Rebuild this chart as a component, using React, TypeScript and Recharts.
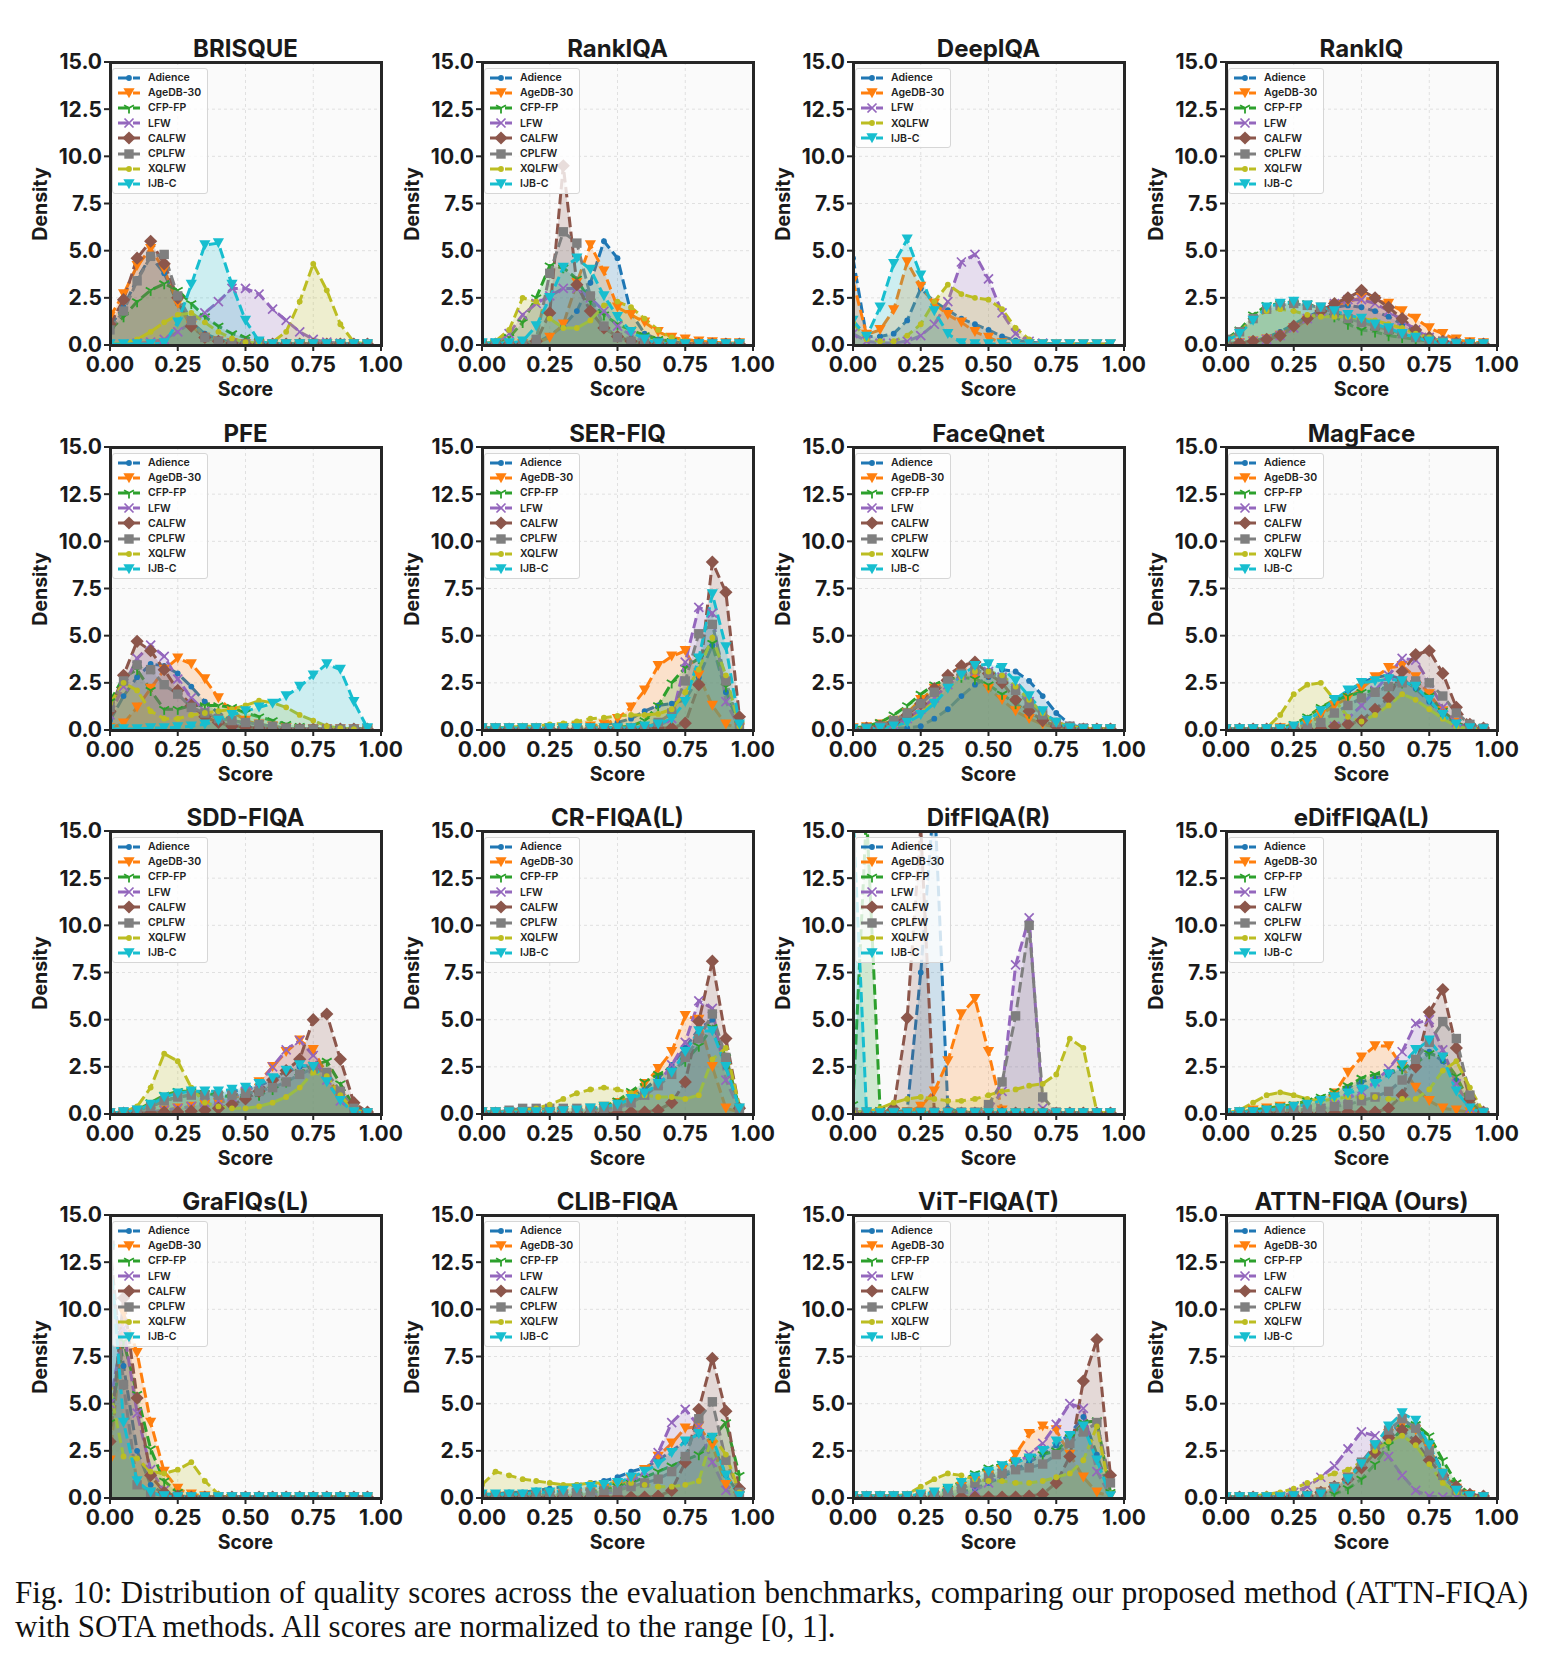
import { Area, CartesianGrid, ComposedChart, XAxis, YAxis } from "recharts"

const FONT = "Inter, 'DejaVu Sans', sans-serif"

// score bins shared by every density curve
const SCORES = [0, 0.05, 0.1, 0.15, 0.2, 0.25, 0.3, 0.35, 0.4, 0.45, 0.5, 0.55, 0.6, 0.65, 0.7, 0.75, 0.8, 0.85, 0.9, 0.95]
const X_TICKS = [0, 0.25, 0.5, 0.75, 1]
const Y_TICKS = [0, 2.5, 5, 7.5, 10, 12.5, 15]
const Y_MAX = 15

const BENCHMARKS = ["Adience", "AgeDB-30", "CFP-FP", "LFW", "CALFW", "CPLFW", "XQLFW", "IJB-C"]

type Curves = Record<string, number[]>

const brisque: Curves = {
  Adience: [1.0, 2.0, 3.5, 4.7, 3.8, 2.2, 1.2, 0.6, 0.3, 0.15, 0.1, 0.05, 0.05, 0.05, 0.05, 0.05, 0.05, 0.05, 0.05, 0.05],
  "AgeDB-30": [1.5, 2.7, 4.2, 5.1, 4.0, 2.2, 1.0, 0.4, 0.2, 0.1, 0.05, 0.05, 0.05, 0.05, 0.05, 0.05, 0.05, 0.05, 0.05, 0.05],
  "CFP-FP": [0.8, 1.5, 2.3, 2.9, 3.25, 2.9, 2.2, 1.5, 1.0, 0.6, 0.4, 0.2, 0.1, 0.05, 0.05, 0.05, 0.05, 0.05, 0.05, 0.05],
  LFW: [0.05, 0.05, 0.1, 0.15, 0.3, 0.7, 1.2, 1.7, 2.3, 3.0, 3.0, 2.7, 1.9, 1.3, 0.7, 0.3, 0.15, 0.1, 0.05, 0.05],
  CALFW: [1.1, 2.4, 4.6, 5.5, 4.3, 2.5, 1.0, 0.4, 0.2, 0.1, 0.05, 0.05, 0.05, 0.05, 0.05, 0.05, 0.05, 0.05, 0.05, 0.05],
  CPLFW: [0.8, 1.8, 3.4, 4.7, 4.8, 2.6, 1.3, 0.4, 0.2, 0.1, 0.05, 0.05, 0.05, 0.05, 0.05, 0.05, 0.05, 0.05, 0.05, 0.05],
  XQLFW: [0.05, 0.1, 0.3, 0.7, 1.2, 1.6, 1.7, 1.2, 0.7, 0.35, 0.15, 0.1, 0.15, 0.7, 2.3, 4.3, 2.9, 1.1, 0.15, 0.05],
  "IJB-C": [0.05, 0.05, 0.05, 0.05, 0.1, 1.2, 3.2, 5.3, 5.4, 3.2, 1.3, 0.2, 0.05, 0.05, 0.05, 0.05, 0.05, 0.05, 0.05, 0.05],
}

const rankIqa: Curves = {
  Adience: [0.05, 0.05, 0.05, 0.05, 0.1, 0.5, 1.0, 1.8, 3.3, 5.5, 4.6, 1.7, 0.6, 0.3, 0.2, 0.1, 0.05, 0.05, 0.05, 0.05],
  "AgeDB-30": [0.05, 0.05, 0.05, 0.05, 0.1, 0.4, 1.1, 3.3, 5.3, 3.9, 2.0, 1.6, 1.2, 0.7, 0.4, 0.3, 0.2, 0.15, 0.1, 0.1],
  "CFP-FP": [0.05, 0.1, 0.4, 1.2, 2.5, 4.2, 4.1, 3.5, 2.3, 1.6, 1.1, 0.8, 0.5, 0.3, 0.2, 0.1, 0.05, 0.05, 0.05, 0.05],
  LFW: [0.05, 0.1, 0.6, 1.6, 2.2, 2.6, 3.0, 3.0, 2.5, 1.8, 1.0, 0.5, 0.2, 0.1, 0.05, 0.05, 0.05, 0.05, 0.05, 0.05],
  CALFW: [0.05, 0.05, 0.05, 0.05, 0.2, 1.7, 9.5, 3.2, 1.8, 0.9, 0.45, 0.2, 0.1, 0.05, 0.05, 0.05, 0.05, 0.05, 0.05, 0.05],
  CPLFW: [0.05, 0.05, 0.05, 0.05, 0.3, 3.8, 6.0, 5.4, 2.6, 1.0, 0.4, 0.2, 0.1, 0.05, 0.05, 0.05, 0.05, 0.05, 0.05, 0.05],
  XQLFW: [0.05, 0.2, 0.8, 2.5, 2.3, 1.4, 0.9, 0.9, 1.3, 2.1, 2.3, 2.0, 1.4, 0.8, 0.4, 0.2, 0.1, 0.05, 0.05, 0.05],
  "IJB-C": [0.1, 0.1, 0.1, 0.2, 1.0, 2.5, 4.1, 4.6, 4.0, 2.6, 1.5, 0.7, 0.3, 0.1, 0.05, 0.05, 0.05, 0.05, 0.05, 0.05],
}

const deepIqa: Curves = {
  Adience: [4.6, 0.45, 0.45, 0.6, 1.3, 3.0, 2.3, 1.85, 1.4, 1.1, 0.8, 0.45, 0.25, 0.15, 0.1, 0.05, 0.05, 0.05, 0.05, 0.05],
  "AgeDB-30": [3.4, 0.55, 0.8, 1.85, 4.4, 3.1, 2.2, 1.6, 1.2, 0.7, 0.4, 0.1, 0.05, 0.05, 0.05, 0.05, 0.05, 0.05, 0.05, 0.05],
  LFW: [0.6, 0.2, 0.1, 0.1, 0.2, 0.5, 1.1, 2.3, 4.4, 4.8, 3.5, 1.7, 0.6, 0.2, 0.1, 0.05, 0.05, 0.05, 0.05, 0.05],
  XQLFW: [1.2, 0.3, 0.2, 0.2, 0.5, 1.1, 2.3, 3.2, 2.7, 2.5, 2.4, 1.9, 0.9, 0.3, 0.1, 0.05, 0.05, 0.05, 0.05, 0.05],
  "IJB-C": [1.3, 0.45, 2.0, 4.3, 5.6, 3.7, 1.8, 0.6, 0.1, 0.05, 0.05, 0.05, 0.05, 0.05, 0.05, 0.05, 0.05, 0.05, 0.05, 0.05],
}

const rankIq: Curves = {
  Adience: [0.1, 0.1, 0.2, 0.4, 0.7, 1.1, 1.5, 1.8, 2.0, 2.1, 2.0, 1.8, 1.5, 1.1, 0.7, 0.4, 0.2, 0.1, 0.05, 0.05],
  "AgeDB-30": [0.05, 0.1, 0.2, 0.3, 0.5, 0.9, 1.3, 1.7, 2.1, 2.3, 2.5, 2.4, 2.2, 1.8, 1.4, 0.9, 0.6, 0.3, 0.15, 0.1],
  "CFP-FP": [0.3, 0.8, 1.6, 2.1, 2.2, 2.2, 2.2, 1.9, 1.5, 1.1, 0.8, 0.7, 0.5, 0.4, 0.3, 0.2, 0.1, 0.05, 0.05, 0.05],
  LFW: [0.05, 0.1, 0.2, 0.3, 0.5, 0.9, 1.4, 1.8, 2.2, 2.4, 2.4, 2.2, 1.8, 1.3, 0.8, 0.4, 0.2, 0.1, 0.05, 0.05],
  CALFW: [0.05, 0.1, 0.2, 0.3, 0.5, 1.0, 1.4, 1.8, 2.2, 2.5, 2.9, 2.5, 2.0, 1.4, 0.8, 0.4, 0.2, 0.1, 0.05, 0.05],
  CPLFW: [0.3, 0.7, 1.4, 1.9, 2.1, 2.2, 2.1, 2.0, 1.7, 1.4, 1.2, 1.0, 0.8, 0.6, 0.4, 0.3, 0.2, 0.1, 0.05, 0.05],
  XQLFW: [0.2, 0.7, 1.4, 1.8, 1.9, 1.8, 1.6, 1.5, 1.5, 1.5, 1.4, 1.3, 1.1, 0.9, 0.6, 0.4, 0.2, 0.1, 0.05, 0.05],
  "IJB-C": [0.2, 0.6, 1.3, 2.0, 2.2, 2.3, 2.1, 2.0, 1.8, 1.6, 1.4, 1.1, 0.9, 0.6, 0.4, 0.2, 0.1, 0.05, 0.05, 0.05],
}

const pfe: Curves = {
  Adience: [0.5, 1.8, 2.8, 3.5, 3.4, 3.0, 2.3, 1.5, 0.9, 0.5, 0.3, 0.2, 0.1, 0.05, 0.05, 0.05, 0.05, 0.05, 0.05, 0.05],
  "AgeDB-30": [0.1, 0.35, 1.2, 2.2, 3.2, 3.8, 3.5, 2.7, 1.7, 1.0, 0.5, 0.3, 0.2, 0.1, 0.05, 0.05, 0.05, 0.05, 0.05, 0.05],
  "CFP-FP": [1.5, 2.8, 3.2, 2.1, 1.1, 1.1, 1.3, 1.3, 1.3, 1.2, 0.9, 0.7, 0.5, 0.3, 0.2, 0.1, 0.05, 0.05, 0.05, 0.05],
  LFW: [0.8, 2.3, 3.8, 4.5, 3.9, 2.7, 1.7, 1.0, 0.6, 0.3, 0.2, 0.1, 0.05, 0.05, 0.05, 0.05, 0.05, 0.05, 0.05, 0.05],
  CALFW: [1.0, 2.9, 4.7, 4.2, 3.2, 2.1, 1.3, 0.7, 0.4, 0.2, 0.15, 0.1, 0.05, 0.05, 0.05, 0.05, 0.05, 0.05, 0.05, 0.05],
  CPLFW: [1.2, 2.6, 3.45, 3.2, 2.4, 1.9, 1.2, 0.9, 0.6, 0.5, 0.4, 0.3, 0.2, 0.1, 0.05, 0.05, 0.05, 0.05, 0.05, 0.05],
  XQLFW: [1.4, 2.5, 2.1, 1.0, 0.6, 0.6, 0.8, 0.9, 1.0, 1.1, 1.3, 1.55, 1.45, 1.2, 0.8, 0.5, 0.2, 0.1, 0.05, 0.05],
  "IJB-C": [0.05, 0.05, 0.05, 0.1, 0.1, 0.15, 0.2, 0.3, 0.5, 0.8, 1.0, 1.2, 1.4, 1.8, 2.3, 2.9, 3.5, 3.2, 1.5, 0.1],
}

const serFiq: Curves = {
  Adience: [0.1, 0.1, 0.1, 0.1, 0.1, 0.1, 0.1, 0.15, 0.2, 0.3, 0.4, 0.6, 1.0, 1.3, 1.4, 1.6, 2.8, 4.5, 2.0, 0.2],
  "AgeDB-30": [0.1, 0.1, 0.1, 0.1, 0.1, 0.1, 0.1, 0.15, 0.2, 0.3, 0.6, 1.2, 2.1, 3.4, 3.9, 4.2, 2.9, 1.3, 0.3, 0.1],
  "CFP-FP": [0.1, 0.1, 0.1, 0.1, 0.1, 0.1, 0.1, 0.1, 0.1, 0.1, 0.15, 0.2, 0.5, 1.3, 2.5, 3.3, 3.8, 4.6, 2.3, 0.3],
  LFW: [0.05, 0.05, 0.05, 0.05, 0.05, 0.05, 0.05, 0.05, 0.05, 0.05, 0.05, 0.05, 0.05, 0.2, 0.6, 3.6, 6.5, 6.2, 1.5, 0.1],
  CALFW: [0.05, 0.05, 0.05, 0.05, 0.05, 0.05, 0.05, 0.05, 0.05, 0.05, 0.05, 0.05, 0.05, 0.1, 0.1, 0.36, 2.4, 8.9, 7.3, 0.7],
  CPLFW: [0.1, 0.1, 0.1, 0.1, 0.1, 0.1, 0.1, 0.1, 0.1, 0.1, 0.1, 0.1, 0.1, 0.4, 0.9, 2.6, 5.1, 5.6, 2.6, 0.2],
  XQLFW: [0.1, 0.1, 0.15, 0.2, 0.2, 0.3, 0.35, 0.45, 0.6, 0.65, 0.75, 0.8, 0.8, 0.85, 1.1, 2.0, 3.2, 4.9, 2.9, 0.2],
  "IJB-C": [0.1, 0.1, 0.1, 0.1, 0.1, 0.1, 0.1, 0.1, 0.1, 0.1, 0.1, 0.1, 0.2, 0.3, 0.6, 1.5, 3.8, 7.2, 4.4, 0.3],
}

const faceQnet: Curves = {
  Adience: [0.05, 0.05, 0.05, 0.1, 0.1, 0.2, 0.6, 1.1, 1.8, 2.4, 2.8, 3.2, 3.1, 2.6, 1.8, 0.9, 0.3, 0.1, 0.05, 0.05],
  "AgeDB-30": [0.1, 0.15, 0.3, 0.5, 0.9, 1.6, 2.2, 2.7, 3.0, 2.8, 2.2, 1.6, 1.0, 0.6, 0.3, 0.15, 0.1, 0.05, 0.05, 0.05],
  "CFP-FP": [0.1, 0.2, 0.4, 0.8, 1.3, 1.9, 2.4, 2.7, 2.8, 2.7, 2.4, 1.9, 1.4, 0.9, 0.5, 0.2, 0.1, 0.05, 0.05, 0.05],
  LFW: [0.05, 0.05, 0.1, 0.3, 0.6, 1.1, 1.7, 2.4, 2.9, 3.1, 3.1, 2.8, 2.2, 1.5, 0.9, 0.4, 0.2, 0.1, 0.05, 0.05],
  CALFW: [0.05, 0.1, 0.2, 0.4, 0.8, 1.4, 2.2, 2.9, 3.4, 3.6, 3.0, 2.5, 1.6, 1.0, 0.5, 0.2, 0.1, 0.05, 0.05, 0.05],
  CPLFW: [0.05, 0.1, 0.2, 0.5, 0.9, 1.4, 2.0, 2.6, 3.0, 3.2, 3.0, 2.7, 2.1, 1.4, 0.8, 0.4, 0.2, 0.1, 0.05, 0.05],
  XQLFW: [0.05, 0.05, 0.1, 0.2, 0.4, 0.9, 1.5, 2.2, 2.8, 3.1, 3.1, 2.9, 2.3, 1.6, 0.9, 0.4, 0.2, 0.1, 0.05, 0.05],
  "IJB-C": [0.05, 0.05, 0.1, 0.2, 0.4, 0.8, 1.4, 2.2, 2.9, 3.4, 3.5, 3.3, 2.6, 1.8, 1.0, 0.4, 0.1, 0.05, 0.05, 0.05],
}

const magFace: Curves = {
  Adience: [0.05, 0.05, 0.05, 0.05, 0.05, 0.1, 0.3, 0.8, 1.4, 2.0, 2.5, 2.8, 2.9, 2.7, 2.2, 1.5, 0.8, 0.3, 0.1, 0.05],
  "AgeDB-30": [0.05, 0.05, 0.05, 0.05, 0.1, 0.1, 0.3, 0.8, 1.3, 1.7, 2.2, 2.8, 3.3, 3.4, 2.8, 1.9, 1.0, 0.4, 0.1, 0.05],
  "CFP-FP": [0.05, 0.05, 0.05, 0.05, 0.1, 0.3, 0.7, 1.2, 1.6, 1.8, 2.0, 2.1, 2.3, 2.5, 2.3, 1.8, 1.0, 0.4, 0.1, 0.05],
  LFW: [0.05, 0.05, 0.05, 0.05, 0.05, 0.05, 0.05, 0.05, 0.2, 0.6, 1.3, 2.1, 2.9, 3.8, 3.7, 2.5, 1.2, 0.4, 0.1, 0.05],
  CALFW: [0.05, 0.05, 0.05, 0.05, 0.05, 0.05, 0.05, 0.05, 0.2, 0.3, 0.5, 1.1, 1.7, 3.1, 4.0, 4.2, 3.0, 1.2, 0.3, 0.1],
  CPLFW: [0.05, 0.05, 0.05, 0.05, 0.05, 0.1, 0.1, 0.4, 0.9, 1.3, 1.7, 2.0, 2.3, 2.5, 2.6, 2.5, 1.8, 0.9, 0.3, 0.1],
  XQLFW: [0.05, 0.05, 0.05, 0.1, 0.8, 1.9, 2.4, 2.5, 1.6, 0.7, 0.45, 0.8, 1.3, 1.9, 1.6, 1.1, 0.6, 0.2, 0.05, 0.05],
  "IJB-C": [0.05, 0.05, 0.05, 0.05, 0.05, 0.2, 0.5, 1.0, 1.6, 2.1, 2.5, 2.6, 2.7, 2.6, 2.3, 1.6, 0.8, 0.3, 0.1, 0.05],
}

const sddFiqa: Curves = {
  Adience: [0.05, 0.1, 0.2, 0.4, 0.7, 0.9, 1.0, 1.1, 1.1, 1.2, 1.3, 1.5, 1.8, 2.2, 2.5, 2.6, 1.9, 0.9, 0.2, 0.05],
  "AgeDB-30": [0.05, 0.05, 0.1, 0.1, 0.2, 0.3, 0.4, 0.5, 0.6, 0.8, 1.1, 1.7, 2.5, 3.3, 3.9, 3.4, 2.1, 0.8, 0.2, 0.05],
  "CFP-FP": [0.05, 0.1, 0.2, 0.6, 1.0, 1.2, 1.2, 1.1, 1.0, 0.9, 0.9, 1.0, 1.3, 1.7, 2.2, 2.6, 2.8, 1.6, 0.4, 0.05],
  LFW: [0.05, 0.05, 0.1, 0.1, 0.2, 0.3, 0.4, 0.6, 0.7, 0.9, 1.2, 1.6, 2.5, 3.4, 3.9, 3.1, 1.8, 0.7, 0.1, 0.05],
  CALFW: [0.05, 0.05, 0.05, 0.05, 0.1, 0.1, 0.15, 0.2, 0.3, 0.5, 0.8, 1.2, 1.8, 2.3, 2.9, 5.0, 5.3, 2.9, 0.6, 0.1],
  CPLFW: [0.05, 0.1, 0.2, 0.4, 0.7, 0.9, 1.0, 1.0, 1.0, 1.0, 1.1, 1.2, 1.4, 1.7, 2.1, 2.4, 2.2, 1.2, 0.3, 0.05],
  XQLFW: [0.05, 0.1, 0.4, 1.4, 3.2, 2.8, 1.4, 0.6, 0.4, 0.3, 0.3, 0.4, 0.6, 0.9, 1.4, 2.2, 2.0, 1.0, 0.2, 0.05],
  "IJB-C": [0.05, 0.1, 0.2, 0.5, 0.9, 1.1, 1.2, 1.2, 1.2, 1.3, 1.4, 1.6, 1.9, 2.3, 2.6, 2.5, 1.7, 0.7, 0.1, 0.05],
}

const crFiqa: Curves = {
  Adience: [0.1, 0.1, 0.1, 0.1, 0.1, 0.1, 0.1, 0.2, 0.3, 0.4, 0.6, 0.9, 1.3, 1.9, 2.6, 3.5, 4.5, 5.0, 2.5, 0.3],
  "AgeDB-30": [0.1, 0.1, 0.1, 0.1, 0.1, 0.1, 0.15, 0.15, 0.2, 0.4, 0.6, 1.0, 1.6, 2.4, 3.3, 5.2, 5.0, 2.5, 0.3, 0.1],
  "CFP-FP": [0.1, 0.1, 0.1, 0.1, 0.1, 0.1, 0.15, 0.2, 0.2, 0.4, 0.7, 1.2, 1.7, 2.1, 2.3, 2.8, 3.6, 4.6, 3.0, 0.3],
  LFW: [0.05, 0.05, 0.05, 0.05, 0.05, 0.1, 0.1, 0.1, 0.15, 0.2, 0.3, 0.6, 1.0, 1.6, 2.6, 3.8, 6.0, 5.6, 1.8, 0.2],
  CALFW: [0.05, 0.05, 0.05, 0.05, 0.05, 0.05, 0.05, 0.05, 0.05, 0.05, 0.05, 0.1, 0.1, 0.2, 0.6, 1.7, 4.9, 8.1, 4.0, 0.3],
  CPLFW: [0.1, 0.1, 0.2, 0.3, 0.3, 0.3, 0.3, 0.3, 0.3, 0.3, 0.4, 0.6, 1.0, 1.5, 2.1, 3.0, 4.0, 5.3, 3.0, 0.3],
  XQLFW: [0.1, 0.1, 0.1, 0.2, 0.3, 0.5, 0.8, 1.1, 1.3, 1.4, 1.3, 1.1, 1.0, 0.9, 0.9, 0.8, 1.0, 2.9, 3.5, 0.4],
  "IJB-C": [0.1, 0.1, 0.1, 0.1, 0.1, 0.1, 0.15, 0.2, 0.3, 0.4, 0.5, 0.8, 1.1, 1.6, 2.2, 3.3, 4.4, 4.4, 2.5, 0.3],
}

const difFiqa: Curves = {
  Adience: [0.1, 0.1, 0.1, 0.1, 0.2, 7.5, 17.0, 0.3, 0.1, 0.05, 0.05, 0.05, 0.05, 0.05, 0.05, 0.05, 0.05, 0.05, 0.05, 0.05],
  "AgeDB-30": [0.05, 0.05, 0.05, 0.05, 0.1, 0.4, 1.2, 2.8, 5.3, 6.1, 3.3, 0.2, 0.05, 0.05, 0.05, 0.05, 0.05, 0.05, 0.05, 0.05],
  "CFP-FP": [0.5, 16.0, 0.2, 0.1, 0.05, 0.05, 0.05, 0.05, 0.05, 0.05, 0.05, 0.05, 0.05, 0.05, 0.05, 0.05, 0.05, 0.05, 0.05, 0.05],
  LFW: [0.05, 0.05, 0.05, 0.05, 0.05, 0.05, 0.05, 0.05, 0.05, 0.05, 0.2, 1.2, 7.9, 10.4, 0.3, 0.05, 0.05, 0.05, 0.05, 0.05],
  CALFW: [0.05, 0.05, 0.05, 0.3, 5.1, 15.2, 0.1, 0.05, 0.05, 0.05, 0.05, 0.05, 0.05, 0.05, 0.05, 0.05, 0.05, 0.05, 0.05, 0.05],
  CPLFW: [0.1, 0.1, 0.1, 0.1, 0.1, 0.1, 0.1, 0.1, 0.1, 0.1, 0.5, 1.7, 5.2, 10.0, 0.9, 0.1, 0.05, 0.05, 0.05, 0.05],
  XQLFW: [0.1, 0.1, 0.3, 0.6, 0.8, 0.9, 0.8, 0.7, 0.7, 0.8, 1.0, 1.2, 1.3, 1.5, 1.6, 2.1, 4.0, 3.5, 0.1, 0.05],
  "IJB-C": [16.0, 0.1, 0.05, 0.05, 0.05, 0.05, 0.05, 0.05, 0.05, 0.05, 0.05, 0.05, 0.05, 0.05, 0.05, 0.05, 0.05, 0.05, 0.05, 0.05],
}

const eDifFiqa: Curves = {
  Adience: [0.05, 0.1, 0.1, 0.2, 0.3, 0.4, 0.6, 0.8, 1.1, 1.4, 1.7, 1.9, 2.1, 2.4, 2.8, 3.3, 2.8, 1.8, 0.5, 0.05],
  "AgeDB-30": [0.05, 0.1, 0.2, 0.3, 0.4, 0.4, 0.5, 0.7, 1.1, 2.2, 3.0, 3.6, 3.6, 2.5, 1.4, 0.7, 0.3, 0.2, 0.1, 0.05],
  "CFP-FP": [0.05, 0.1, 0.2, 0.3, 0.4, 0.5, 0.7, 0.9, 1.2, 1.5, 1.9, 2.1, 2.2, 2.4, 2.7, 3.2, 3.0, 2.0, 0.6, 0.1],
  LFW: [0.05, 0.05, 0.1, 0.1, 0.15, 0.2, 0.2, 0.3, 0.5, 0.8, 1.2, 1.7, 2.4, 3.3, 4.8, 5.0, 3.4, 1.6, 0.3, 0.05],
  CALFW: [0.05, 0.05, 0.05, 0.05, 0.05, 0.05, 0.05, 0.05, 0.05, 0.1, 0.1, 0.1, 0.3, 1.0, 2.5, 5.4, 6.6, 3.5, 0.8, 0.1],
  CPLFW: [0.05, 0.1, 0.1, 0.15, 0.2, 0.2, 0.25, 0.3, 0.4, 0.5, 0.7, 0.9, 1.2, 1.8, 2.9, 3.8, 4.9, 4.0, 1.0, 0.1],
  XQLFW: [0.05, 0.2, 0.6, 1.0, 1.15, 1.0, 0.8, 0.7, 0.8, 0.9, 0.9, 0.9, 0.8, 0.8, 0.8, 1.3, 2.3, 2.8, 1.4, 0.1],
  "IJB-C": [0.05, 0.1, 0.1, 0.2, 0.3, 0.4, 0.5, 0.7, 0.9, 1.1, 1.3, 1.6, 2.1, 2.6, 3.4, 3.9, 3.0, 1.2, 0.3, 0.05],
}

const graFiqs: Curves = {
  Adience: [12.0, 7.0, 2.5, 0.7, 0.2, 0.1, 0.05, 0.05, 0.05, 0.05, 0.05, 0.05, 0.05, 0.05, 0.05, 0.05, 0.05, 0.05, 0.05, 0.05],
  "AgeDB-30": [2.0, 9.8, 7.7, 4.0, 1.4, 0.5, 0.2, 0.1, 0.05, 0.05, 0.05, 0.05, 0.05, 0.05, 0.05, 0.05, 0.05, 0.05, 0.05, 0.05],
  "CFP-FP": [4.0, 8.3, 5.5, 2.6, 0.9, 0.3, 0.1, 0.05, 0.05, 0.05, 0.05, 0.05, 0.05, 0.05, 0.05, 0.05, 0.05, 0.05, 0.05, 0.05],
  LFW: [5.0, 9.0, 4.5, 1.5, 0.4, 0.1, 0.05, 0.05, 0.05, 0.05, 0.05, 0.05, 0.05, 0.05, 0.05, 0.05, 0.05, 0.05, 0.05, 0.05],
  CALFW: [3.0, 10.6, 5.3, 1.2, 0.3, 0.1, 0.05, 0.05, 0.05, 0.05, 0.05, 0.05, 0.05, 0.05, 0.05, 0.05, 0.05, 0.05, 0.05, 0.05],
  CPLFW: [13.4, 6.0, 0.7, 0.3, 0.1, 0.05, 0.05, 0.05, 0.05, 0.05, 0.05, 0.05, 0.05, 0.05, 0.05, 0.05, 0.05, 0.05, 0.05, 0.05],
  XQLFW: [5.8, 2.2, 2.1, 1.4, 1.3, 1.5, 1.9, 0.9, 0.2, 0.1, 0.05, 0.05, 0.05, 0.05, 0.05, 0.05, 0.05, 0.05, 0.05, 0.05],
  "IJB-C": [13.2, 4.0, 0.9, 0.3, 0.1, 0.05, 0.05, 0.05, 0.05, 0.05, 0.05, 0.05, 0.05, 0.05, 0.05, 0.05, 0.05, 0.05, 0.05, 0.05],
}

const clibFiqa: Curves = {
  Adience: [0.2, 0.2, 0.3, 0.3, 0.4, 0.5, 0.6, 0.7, 0.8, 0.9, 1.1, 1.4, 1.6, 2.0, 2.5, 3.0, 3.4, 2.9, 1.2, 0.2],
  "AgeDB-30": [0.1, 0.1, 0.1, 0.1, 0.1, 0.2, 0.2, 0.2, 0.3, 0.5, 0.7, 1.0, 1.5, 2.2, 2.9, 3.7, 3.8, 2.8, 0.7, 0.1],
  "CFP-FP": [0.1, 0.1, 0.1, 0.1, 0.1, 0.2, 0.2, 0.2, 0.3, 0.4, 0.6, 0.8, 1.1, 1.4, 1.7, 2.0, 2.3, 3.2, 4.0, 1.2],
  LFW: [0.05, 0.05, 0.05, 0.1, 0.1, 0.1, 0.1, 0.15, 0.2, 0.2, 0.4, 0.8, 1.4, 2.4, 4.0, 4.7, 3.8, 1.9, 0.4, 0.1],
  CALFW: [0.05, 0.05, 0.05, 0.05, 0.05, 0.05, 0.05, 0.05, 0.05, 0.05, 0.05, 0.05, 0.05, 0.1, 0.4, 1.9, 4.7, 7.4, 4.6, 0.5],
  CPLFW: [0.1, 0.1, 0.1, 0.1, 0.2, 0.2, 0.2, 0.3, 0.3, 0.4, 0.4, 0.6, 0.8, 1.0, 1.4, 2.2, 4.2, 5.1, 2.0, 0.3],
  XQLFW: [0.7, 1.4, 1.2, 1.0, 0.9, 0.8, 0.7, 0.7, 0.8, 0.8, 0.8, 0.8, 0.7, 0.6, 0.6, 0.7, 0.9, 3.3, 2.3, 0.3],
  "IJB-C": [0.2, 0.2, 0.2, 0.2, 0.3, 0.3, 0.4, 0.5, 0.6, 0.7, 0.8, 1.1, 1.4, 1.8, 2.4, 3.0, 3.4, 3.2, 1.2, 0.1],
}

const vitFiqa: Curves = {
  Adience: [0.1, 0.1, 0.1, 0.1, 0.1, 0.1, 0.1, 0.2, 0.3, 0.5, 0.8, 1.1, 1.5, 1.9, 2.3, 2.8, 3.4, 4.3, 2.3, 0.2],
  "AgeDB-30": [0.1, 0.1, 0.1, 0.1, 0.1, 0.1, 0.1, 0.3, 0.6, 0.9, 1.2, 1.5, 2.3, 3.4, 3.8, 3.6, 2.3, 1.1, 0.3, 0.1],
  "CFP-FP": [0.05, 0.05, 0.05, 0.05, 0.05, 0.1, 0.2, 0.5, 0.9, 1.3, 1.6, 1.8, 1.9, 2.1, 2.3, 2.5, 3.2, 4.0, 4.1, 0.3],
  LFW: [0.05, 0.05, 0.05, 0.05, 0.05, 0.05, 0.1, 0.1, 0.2, 0.4, 0.8, 1.3, 1.8, 2.3, 2.9, 3.9, 5.0, 4.75, 1.4, 0.1],
  CALFW: [0.05, 0.05, 0.05, 0.05, 0.05, 0.05, 0.05, 0.05, 0.05, 0.05, 0.05, 0.05, 0.05, 0.1, 0.2, 0.8, 2.2, 6.2, 8.4, 1.2],
  CPLFW: [0.1, 0.1, 0.1, 0.1, 0.1, 0.1, 0.2, 0.3, 0.5, 0.8, 1.1, 1.3, 1.5, 1.6, 1.8, 2.3, 2.9, 3.5, 4.0, 0.8],
  XQLFW: [0.1, 0.1, 0.1, 0.1, 0.2, 0.6, 1.0, 1.3, 1.2, 1.0, 0.9, 0.9, 0.8, 0.8, 0.9, 1.1, 1.3, 2.0, 3.8, 0.2],
  "IJB-C": [0.1, 0.1, 0.1, 0.1, 0.1, 0.2, 0.3, 0.5, 0.8, 1.1, 1.4, 1.7, 1.9, 2.1, 2.5, 3.0, 3.3, 3.8, 2.0, 0.1],
}

const attnFiqa: Curves = {
  Adience: [0.05, 0.05, 0.05, 0.05, 0.05, 0.1, 0.1, 0.2, 0.5, 1.0, 1.7, 2.6, 3.4, 4.0, 3.8, 2.8, 1.4, 0.5, 0.1, 0.05],
  "AgeDB-30": [0.05, 0.05, 0.05, 0.05, 0.05, 0.1, 0.1, 0.3, 0.6, 1.1, 1.8, 2.6, 3.4, 3.9, 3.6, 2.6, 1.3, 0.5, 0.15, 0.05],
  "CFP-FP": [0.05, 0.05, 0.05, 0.05, 0.05, 0.05, 0.1, 0.1, 0.2, 0.5, 1.0, 1.8, 2.8, 3.7, 3.9, 3.3, 2.0, 0.8, 0.2, 0.05],
  LFW: [0.05, 0.05, 0.05, 0.05, 0.1, 0.3, 0.6, 1.1, 1.7, 2.6, 3.5, 3.3, 2.2, 1.2, 0.4, 0.1, 0.05, 0.05, 0.05, 0.05],
  CALFW: [0.05, 0.05, 0.05, 0.05, 0.05, 0.1, 0.1, 0.3, 0.6, 1.0, 1.6, 2.4, 3.2, 3.6, 3.0, 2.0, 1.2, 0.6, 0.2, 0.1],
  CPLFW: [0.05, 0.05, 0.05, 0.05, 0.05, 0.1, 0.1, 0.3, 0.6, 1.1, 1.9, 2.8, 3.6, 4.2, 3.7, 2.5, 1.2, 0.4, 0.1, 0.05],
  XQLFW: [0.05, 0.05, 0.1, 0.2, 0.3, 0.5, 0.8, 1.1, 1.3, 1.5, 1.9, 2.5, 3.0, 3.3, 2.8, 1.8, 0.8, 0.3, 0.1, 0.05],
  "IJB-C": [0.05, 0.05, 0.05, 0.05, 0.05, 0.1, 0.1, 0.2, 0.5, 1.0, 1.8, 2.8, 3.8, 4.5, 4.1, 2.8, 1.3, 0.4, 0.1, 0.05],
}

const METHODS: { title: string; curves: Curves }[] = [
  { title: "BRISQUE", curves: brisque },
  { title: "RankIQA", curves: rankIqa },
  { title: "DeepIQA", curves: deepIqa },
  { title: "RankIQ", curves: rankIq },
  { title: "PFE", curves: pfe },
  { title: "SER-FIQ", curves: serFiq },
  { title: "FaceQnet", curves: faceQnet },
  { title: "MagFace", curves: magFace },
  { title: "SDD-FIQA", curves: sddFiqa },
  { title: "CR-FIQA(L)", curves: crFiqa },
  { title: "DifFIQA(R)", curves: difFiqa },
  { title: "eDifFIQA(L)", curves: eDifFiqa },
  { title: "GraFIQs(L)", curves: graFiqs },
  { title: "CLIB-FIQA", curves: clibFiqa },
  { title: "ViT-FIQA(T)", curves: vitFiqa },
  { title: "ATTN-FIQA (Ours)", curves: attnFiqa },
]

type MarkerKind = "point" | "triangle" | "tri" | "cross" | "diamond" | "square"

const SERIES_STYLE: Record<string, { color: string; marker: MarkerKind }> = {
  Adience: { color: "#1f77b4", marker: "point" },
  "AgeDB-30": { color: "#ff7f0e", marker: "triangle" },
  "CFP-FP": { color: "#2ca02c", marker: "tri" },
  LFW: { color: "#9467bd", marker: "cross" },
  CALFW: { color: "#8c564b", marker: "diamond" },
  CPLFW: { color: "#7f7f7f", marker: "square" },
  XQLFW: { color: "#bcbd22", marker: "point" },
  "IJB-C": { color: "#17becf", marker: "triangle" },
}

// grid of axes boxes (page pixels)
const COL_X = [110, 482, 853, 1226]
const ROW_Y = [62, 447, 831, 1215]
const PLOT_W = 271
const PLOT_H = 283
const PAD_L = 90
const PAD_T = 44
const PAD_R = 30
const PAD_B = 60
const Y_AXIS_W = 60
const X_AXIS_H = 30
const INK = "#262626"
const LINE_W = 3
const DASH = "10.5 4.5"

function Marker({ kind, x, y, color }: { kind: MarkerKind; x: number; y: number; color: string }) {
  switch (kind) {
    case "point":
      return <circle cx={x} cy={y} r={2.9} fill={color} />
    case "triangle":
      return <polygon points={`${x - 5.6},${y - 4.8} ${x + 5.6},${y - 4.8} ${x},${y + 5.2}`} fill={color} />
    case "tri":
      return (
        <g stroke={color} strokeWidth={1.8}>
          <line x1={x} y1={y} x2={x} y2={y + 5.6} />
          <line x1={x} y1={y} x2={x - 4.9} y2={y - 2.8} />
          <line x1={x} y1={y} x2={x + 4.9} y2={y - 2.8} />
        </g>
      )
    case "cross":
      return (
        <g stroke={color} strokeWidth={1.7}>
          <line x1={x - 4.5} y1={y - 4.5} x2={x + 4.5} y2={y + 4.5} />
          <line x1={x - 4.5} y1={y + 4.5} x2={x + 4.5} y2={y - 4.5} />
        </g>
      )
    case "diamond":
      return <polygon points={`${x},${y - 6.6} ${x + 6.6},${y} ${x},${y + 6.6} ${x - 6.6},${y}`} fill={color} />
    default:
      return <rect x={x - 4.7} y={y - 4.7} width={9.4} height={9.4} fill={color} />
  }
}

const makeDot = (name: string) => (props: any) => {
  const { cx, cy, index, payload } = props
  const key = `${name}-${index}`
  const v = payload ? payload[name] : 0
  if (cx == null || cy == null || v > Y_MAX) return <g key={key} />
  const s = SERIES_STYLE[name]
  return (
    <g key={key}>
      <Marker kind={s.marker} x={cx} y={cy} color={s.color} />
    </g>
  )
}

function toRows(curves: Curves) {
  return SCORES.map((score, i) => {
    const row: Record<string, number> = { score }
    for (const name of Object.keys(curves)) row[name] = curves[name][i]
    return row
  })
}

function LegendBox({ names, left, top }: { names: string[]; left: number; top: number }) {
  return (
    <div
      style={{
        position: "absolute",
        left,
        top,
        background: "rgba(255,255,255,0.8)",
        border: "1px solid #d6d6d6",
        borderRadius: 3,
        padding: "1.5px 6px 1.5px 5px",
        fontFamily: FONT,
        fontSize: 10.5,
        fontWeight: 600,
        color: "#222",
      }}
    >
      {names.map((n) => {
        const s = SERIES_STYLE[n]
        return (
          <div key={n} style={{ display: "flex", alignItems: "center", height: 15.2 }}>
            <svg width={22} height={14} style={{ marginRight: 8, overflow: "visible" }}>
              <line x1={0} y1={7} x2={22} y2={7} stroke={s.color} strokeWidth={LINE_W} strokeDasharray={DASH} />
              <Marker kind={s.marker} x={11} y={7} color={s.color} />
            </svg>
            <span style={{ whiteSpace: "nowrap" }}>{n}</span>
          </div>
        )
      })}
    </div>
  )
}

function Panel({ title, curves, left, top }: { title: string; curves: Curves; left: number; top: number }) {
  const rows = toRows(curves)
  const names = BENCHMARKS.filter((n) => n in curves)
  const tickStyle = { fill: "#1a1a1a", fontSize: 21, fontWeight: 700, fontFamily: FONT }
  const labelStyle = { position: "absolute" as const, fontFamily: FONT, fontWeight: 700, color: "#1a1a1a" }
  return (
    <>
      <div style={{ position: "absolute", left: left - PAD_L, top: top - PAD_T }}>
        <ComposedChart
          width={PAD_L + PLOT_W + PAD_R}
          height={PAD_T + PLOT_H + PAD_B}
          data={rows}
          margin={{ top: PAD_T, right: PAD_R, bottom: PAD_B - X_AXIS_H, left: PAD_L - Y_AXIS_W }}
        >
          <CartesianGrid stroke="#d9d9d9" strokeDasharray="3 3" strokeWidth={0.8} fill="#fafafa" fillOpacity={1} />
          <XAxis
            type="number"
            dataKey="score"
            domain={[0, 1]}
            ticks={X_TICKS}
            interval={0}
            height={X_AXIS_H}
            axisLine={false}
            tickSize={6}
            tickMargin={6}
            tickLine={{ stroke: INK, strokeWidth: 2 }}
            tick={tickStyle}
            tickFormatter={(v: number) => v.toFixed(2)}
            allowDataOverflow
          />
          <YAxis
            type="number"
            domain={[0, Y_MAX]}
            ticks={Y_TICKS}
            interval={0}
            width={Y_AXIS_W}
            axisLine={false}
            tickSize={6}
            tickMargin={2}
            tickLine={{ stroke: INK, strokeWidth: 2 }}
            tick={tickStyle}
            tickFormatter={(v: number) => v.toFixed(1)}
            allowDataOverflow
          />
          {names.map((n) => (
            <Area
              key={n}
              type="linear"
              dataKey={n}
              stroke={SERIES_STYLE[n].color}
              strokeWidth={LINE_W}
              strokeDasharray={DASH}
              fill={SERIES_STYLE[n].color}
              fillOpacity={0.2}
              dot={makeDot(n)}
              activeDot={false}
              isAnimationActive={false}
            />
          ))}
        </ComposedChart>
      </div>
      <div
        style={{
          position: "absolute",
          left: left - 1.5,
          top: top - 1.5,
          width: PLOT_W + 3,
          height: PLOT_H + 3,
          border: `3px solid ${INK}`,
          boxSizing: "border-box",
        }}
      />
      <LegendBox names={names} left={left + 2} top={top + 5.5} />
      <div style={{ ...labelStyle, left, width: PLOT_W, top: top - 26, textAlign: "center", fontSize: 24, lineHeight: "25px" }}>
        {title}
      </div>
      <div style={{ ...labelStyle, left, width: PLOT_W, top: top + PLOT_H + 33, textAlign: "center", fontSize: 19.5, lineHeight: "22px" }}>
        Score
      </div>
      <div
        style={{
          ...labelStyle,
          left: left - 70 - 60,
          top: top + PLOT_H / 2 - 11,
          width: 120,
          textAlign: "center",
          fontSize: 19.5,
          lineHeight: "22px",
          transform: "rotate(-90deg)",
        }}
      >
        Density
      </div>
    </>
  )
}

export default function App() {
  return (
    <div style={{ position: "absolute", left: 0, top: 0, width: 1543, height: 1661, background: "#fff", overflow: "hidden" }}>
      {METHODS.map((m, i) => (
        <Panel key={m.title} title={m.title} curves={m.curves} left={COL_X[i % 4]} top={ROW_Y[Math.floor(i / 4)]} />
      ))}
      <div
        style={{
          position: "absolute",
          left: 15,
          top: 1576,
          width: 1513,
          fontFamily: "'Liberation Serif', 'Times New Roman', serif",
          fontSize: 31,
          lineHeight: "34px",
          color: "#111",
        }}
      >
        <div style={{ textAlign: "justify", textAlignLast: "justify" }}>
          Fig. 10: Distribution of quality scores across the evaluation benchmarks, comparing our proposed method (ATTN-FIQA)
        </div>
        <div>with SOTA methods. All scores are normalized to the range [0, 1].</div>
      </div>
    </div>
  )
}
